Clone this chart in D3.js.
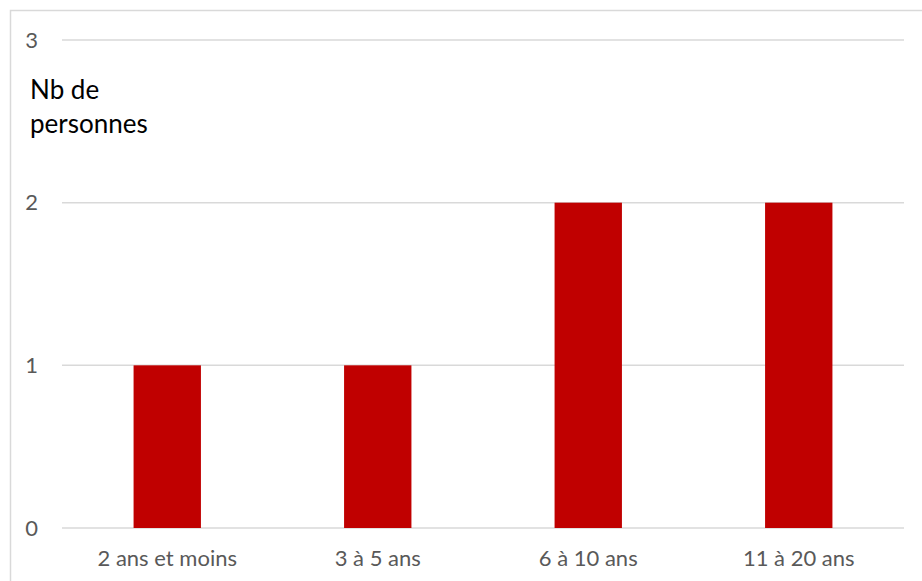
<!DOCTYPE html>
<html lang="fr">
<head>
    <meta charset="UTF-8">
    <script src="https://cdn.jsdelivr.net/npm/d3@7"></script>
    <style>
        * { margin: 0; padding: 0; }
        body { background: white; font-family: Lato, "Open Sans", sans-serif; }
        svg { display: block; }
        .axis path { display: none; }
        .axis line { display: none; }
        .axis text { fill: #595959; }
    </style>
    <title>Nb de personnes</title>
</head>
<body>
    <div id="chart"></div>
    <script>
        var w = 922, h = 581;

        // données
        var categories = ["2 ans et moins", "3 à 5 ans", "6 à 10 ans", "11 à 20 ans"];
        var values = [1, 1, 2, 2];
        var yTicks = [0, 1, 2, 3];
        var yLabel = ["Nb de", "personnes"];

        var plotLeft = 62, plotRight = 904, plotTop = 40, plotBottom = 528;

        var svg = d3.select("#chart").append("svg")
            .attr("width", w).attr("height", h);

        // cadre
        svg.append("rect")
            .attr("x", 10.5).attr("y", 10.5)
            .attr("width", w + 10).attr("height", h + 10)
            .attr("fill", "none")
            .attr("stroke", "#d9d9d9")
            .attr("stroke-width", 1.5);

        var xScale = d3.scaleBand()
            .domain(categories)
            .range([plotLeft, plotRight])
            .paddingInner(0.68)
            .paddingOuter(0.34);

        var yScale = d3.scaleLinear()
            .domain([0, 3])
            .range([plotBottom, plotTop]);

        // grille
        svg.append("g")
            .selectAll("line")
            .data(yTicks)
            .enter()
            .append("line")
            .attr("x1", plotLeft).attr("x2", plotRight)
            .attr("y1", function(d) { return yScale(d); })
            .attr("y2", function(d) { return yScale(d); })
            .attr("stroke", "#d9d9d9")
            .attr("stroke-width", 1.5);

        // barres
        svg.append("g")
            .selectAll("rect")
            .data(values)
            .enter()
            .append("rect")
            .attr("x", function(d, i) { return xScale(categories[i]); })
            .attr("y", function(d) { return yScale(d); })
            .attr("width", xScale.bandwidth())
            .attr("height", function(d) { return yScale(0) - yScale(d); })
            .attr("fill", "#c00000");

        // axes
        var xAxis = d3.axisBottom(xScale).tickSize(0).tickPadding(22);
        svg.append("g")
            .attr("class", "axis")
            .attr("transform", "translate(0," + plotBottom + ")")
            .call(xAxis)
            .attr("font-family", "Lato, 'Open Sans', sans-serif")
            .attr("font-size", "22px");

        var yAxis = d3.axisLeft(yScale)
            .tickValues(yTicks)
            .tickFormat(d3.format("d"))
            .tickSize(0)
            .tickPadding(24);
        svg.append("g")
            .attr("class", "axis")
            .attr("transform", "translate(" + plotLeft + ",0)")
            .call(yAxis)
            .attr("font-family", "Lato, 'Open Sans', sans-serif")
            .attr("font-size", "22px");

        // titre de l'axe
        svg.append("text")
            .attr("y", 99)
            .attr("font-size", "26px")
            .attr("fill", "#000")
            .selectAll("tspan")
            .data(yLabel)
            .enter()
            .append("tspan")
            .attr("x", 30)
            .attr("dy", function(d, i) { return i ? 34 : 0; })
            .text(function(d) { return d; });
    </script>
</body>
</html>
